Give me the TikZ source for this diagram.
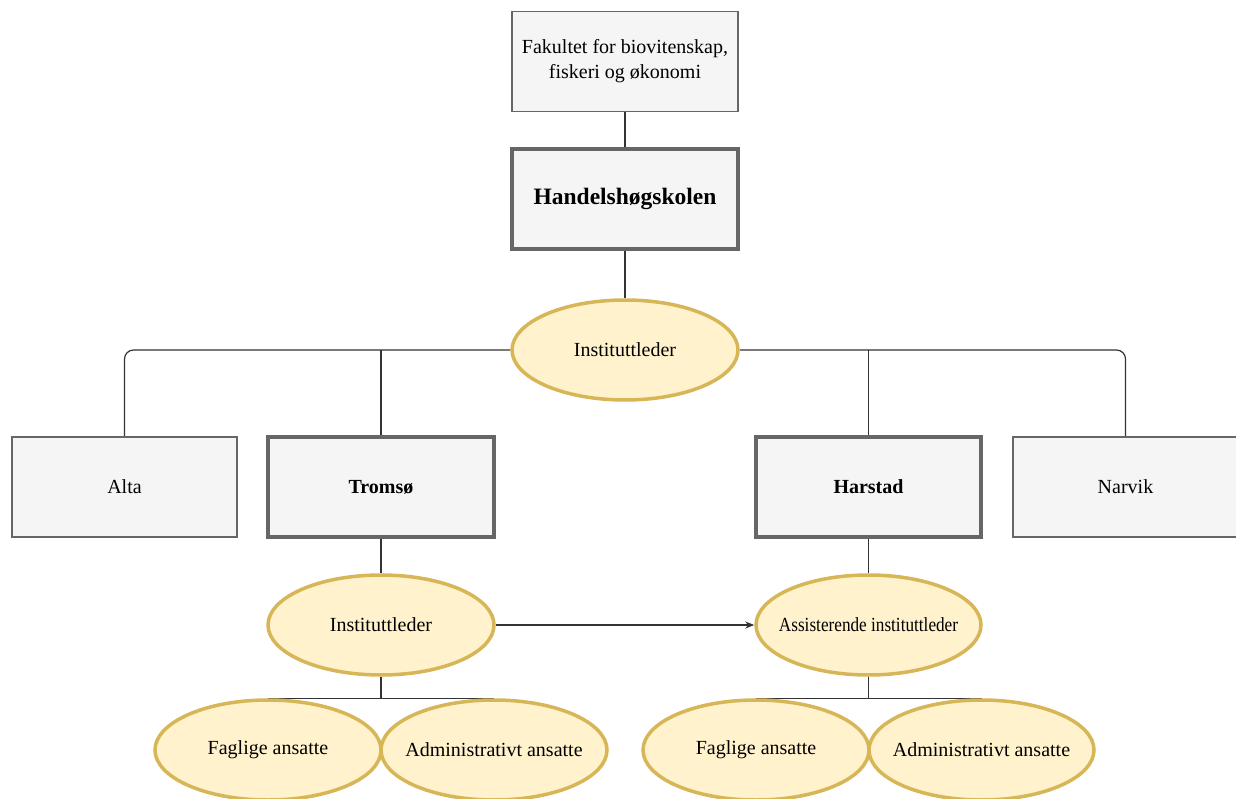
\documentclass[tikz,border=0pt]{standalone}
\usepackage{fontspec}
\usepackage{graphicx}
\setmainfont{Liberation Serif}
\usetikzlibrary{arrows.meta,shapes.geometric,backgrounds}
\definecolor{boxfill}{HTML}{F5F5F5}
\definecolor{boxline}{HTML}{666666}
\definecolor{ellfill}{HTML}{FFF2CC}
\definecolor{ellline}{HTML}{D6B656}
\definecolor{conn}{HTML}{333333}
\newcommand{\zw}[1]{\makebox[0pt][c]{#1}}
\tikzset{
  plainbox/.style={draw=boxline, line width=1.2pt, fill=boxfill, minimum width=226pt, minimum height=100pt, inner sep=0pt, align=center, font=\fontsize{20}{25}\selectfont},
  strongbox/.style={plainbox, line width=4pt, font=\fontsize{20}{25}\selectfont\bfseries},
  role/.style={ellipse, draw=ellline, line width=3.5pt, fill=ellfill, minimum width=226pt, minimum height=100pt, inner sep=0pt, align=center, font=\fontsize{20}{25}\selectfont},
  link/.style={draw=conn, line width=1.2pt},
}
\begin{document}
\begin{tikzpicture}[x=1pt,y=-1pt]
\useasboundingbox (0,0) rectangle (1236,799);
\node[plainbox] (fak) at (625,61.5) {Fakultet for biovitenskap,\\fiskeri og økonomi};
\node[strongbox, font=\fontsize{23.5}{28}\selectfont\bfseries] (hhs) at (625,199) {Handelshøgskolen};
\node[role] (inst) at (625,350) {\zw{Instituttleder}};
\node[plainbox, minimum width=225pt] (alta) at (124.5,487) {Alta};
\node[strongbox] (tromso) at (381,487) {Tromsø};
\node[strongbox, minimum width=225pt] (harstad) at (868.5,487) {Harstad};
\node[plainbox, minimum width=225pt] (narvik) at (1125.5,487) {Narvik};
\node[role] (tinst) at (381,625) {\zw{Instituttleder}};
\node[role, minimum width=225pt] (hass) at (868.5,625) {\zw{\scalebox{0.86}[1]{Assisterende instituttleder}}};
\node[role] (tfag) at (268,750) {\zw{Faglige ansatte}};
\node[role] (tadm) at (494,750) {\zw{Administrativt ansatte}};
\node[role] (hfag) at (756,750) {\zw{Faglige ansatte}};
\node[role, minimum width=225pt] (hadm) at (981.5,750) {\zw{Administrativt ansatte}};
\begin{pgfonlayer}{background}
\draw[link] (fak.south) -- (hhs.north);
\draw[link] (hhs.south) -- (inst.north);
\draw[link, rounded corners=9pt] (inst.west) -| (alta.north);
\draw[link] (tromso.north |- inst.west) -- (tromso.north);
\draw[link] (harstad.north |- inst.east) -- (harstad.north);
\draw[link, rounded corners=9pt] (inst.east) -| (narvik.north);
\draw[link] (tromso.south) -- (tinst.north);
\draw[link] (harstad.south) -- (hass.north);
\draw[link] (tinst.south) |- (tfag.north);
\draw[link] (tinst.south) |- (tadm.north);
\draw[link] (hass.south) |- (hfag.north);
\draw[link] (hass.south) |- (hadm.north);
\end{pgfonlayer}
\draw[link, -{Stealth[length=9pt,width=7pt]}] (tinst.east) -- (hass.west);
\end{tikzpicture}
\end{document}
